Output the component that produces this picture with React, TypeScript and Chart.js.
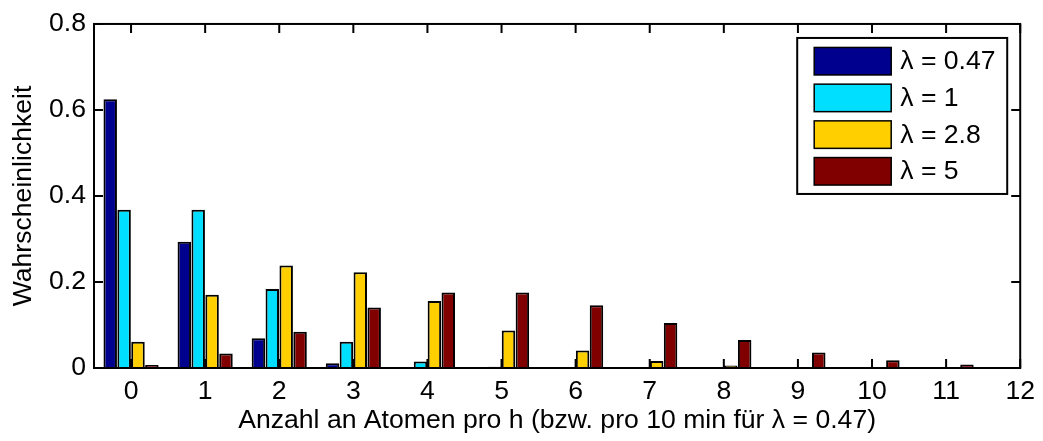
import React, { useEffect, useRef } from "react";
import { Chart, registerables } from "chart.js";

Chart.register(...registerables);

const categories = [0, 1, 2, 3, 4, 5, 6, 7, 8, 9, 10, 11, 12];
const lambda047 = [0.625, 0.2938, 0.069, 0.0108, 0.0013, 0.0001, 0, 0, 0, 0, 0, 0, 0];
const lambda1 = [0.3679, 0.3679, 0.1839, 0.0613, 0.0153, 0.0031, 0.0005, 0.0001, 0, 0, 0, 0, 0];
const lambda28 = [0.0608, 0.1703, 0.2384, 0.2225, 0.1557, 0.0872, 0.0407, 0.0163, 0.0057, 0.0018, 0.0005, 0.0001, 0];
const lambda5 = [0.0067, 0.0337, 0.0842, 0.1404, 0.1755, 0.1755, 0.1462, 0.1044, 0.0653, 0.0363, 0.0181, 0.0082, 0.0034];
const seriesLabels = ["λ = 0.47", "λ = 1", "λ = 2.8", "λ = 5"];
const seriesColors = ["#00008F", "#00DFFF", "#FFCF00", "#800000"];
const yTicks = [0, 0.2, 0.4, 0.6, 0.8];
const xTitle = "Anzahl an Atomen pro h (bzw. pro 10 min für λ = 0.47)";
const yTitle = "Wahrscheinlichkeit";

const FONT = "'Liberation Sans', Arial, Helvetica, sans-serif";
const FS = 26.6;

const boxPlugin = {
  id: "matlabBox",
  afterDatasetsDraw(chart: any) {
    const { ctx, chartArea: a, scales } = chart;
    const x = scales.x;
    const y = scales.y;
    const tl = 9;
    ctx.save();
    ctx.strokeStyle = "#000";
    ctx.lineWidth = 2;
    ctx.beginPath();
    categories.forEach((c) => {
      const px = x.getPixelForValue(c);
      ctx.moveTo(px, a.bottom);
      ctx.lineTo(px, a.bottom - tl);
      ctx.moveTo(px, a.top);
      ctx.lineTo(px, a.top + tl);
    });
    yTicks.forEach((t) => {
      const py = y.getPixelForValue(t);
      ctx.moveTo(a.left, py);
      ctx.lineTo(a.left + tl, py);
      ctx.moveTo(a.right, py);
      ctx.lineTo(a.right - tl, py);
    });
    ctx.stroke();
    ctx.strokeRect(a.left, a.top, a.right - a.left, a.bottom - a.top);

    // legend
    const bw = 210;
    const bh = 156;
    const bx = a.right - 13 - bw;
    const by = a.top + 14;
    ctx.fillStyle = "#fff";
    ctx.fillRect(bx, by, bw, bh);
    ctx.lineWidth = 2;
    ctx.strokeRect(bx, by, bw, bh);
    ctx.font = `${FS}px ${FONT}`;
    ctx.textBaseline = "middle";
    ctx.textAlign = "left";
    seriesLabels.forEach((lab, i) => {
      const ry = by + 9.5 + i * 36.7;
      ctx.fillStyle = seriesColors[i];
      ctx.fillRect(bx + 17, ry, 77, 27.5);
      ctx.lineWidth = 1.5;
      ctx.strokeStyle = "#000";
      ctx.strokeRect(bx + 17, ry, 77, 27.5);
      ctx.fillStyle = "#000";
      ctx.fillText(lab, bx + 103, ry + 14.5);
    });
    ctx.restore();
  },
};

export default function App() {
  const ref = useRef<HTMLCanvasElement>(null);
  useEffect(() => {
    if (!ref.current) return;
    const all = [lambda047, lambda1, lambda28, lambda5];
    const chart = new Chart(ref.current, {
      type: "bar",
      data: {
        datasets: all.map((vals, i) => ({
          label: seriesLabels[i],
          data: categories.map((c, j) => ({ x: c, y: vals[j] })),
          backgroundColor: seriesColors[i],
          borderColor: "#000",
          borderWidth: 2,
          categoryPercentage: 0.75,
          barPercentage: 0.97,
        })),
      },
      options: {
        animation: false,
        responsive: true,
        maintainAspectRatio: false,
        layout: { padding: { top: 15, right: 20, left: 0, bottom: 0 } },
        plugins: { legend: { display: false }, tooltip: { enabled: false } },
        scales: {
          x: {
            type: "linear",
            min: -0.5,
            max: 12,
            offset: false,
            grid: { display: false, drawTicks: false, offset: false },
            border: { display: false },
            afterBuildTicks: (s: any) => {
              s.ticks = categories.map((v) => ({ value: v }));
            },
            afterFit: (s: any) => {
              s.height = 73;
            },
            ticks: {
              padding: 8,
              color: "#000",
              font: { size: FS, family: FONT },
              maxRotation: 0,
              autoSkip: false,
              callback: (v: any) => String(v),
            },
            title: {
              display: true,
              text: xTitle,
              color: "#000",
              font: { size: FS, family: FONT },
              padding: { top: 0, bottom: 4 },
            },
          },
          y: {
            min: 0,
            max: 0.8,
            grid: { display: false, drawTicks: false },
            border: { display: false },
            afterBuildTicks: (s: any) => {
              s.ticks = yTicks.map((v) => ({ value: v }));
            },
            afterFit: (s: any) => {
              s.width = 94;
            },
            ticks: {
              padding: 8,
              color: "#000",
              font: { size: FS, family: FONT },
              callback: (v: any) => String(Number(Number(v).toFixed(1))),
            },
            title: {
              display: true,
              text: yTitle,
              color: "#000",
              font: { size: FS, family: FONT },
              padding: { top: 8, bottom: 0 },
            },
          },
        },
      },
      plugins: [boxPlugin],
    });
    return () => chart.destroy();
  }, []);
  return (
    <div style={{ position: "fixed", left: 0, top: 0, width: 1043, height: 441, background: "#fff" }}>
      <canvas ref={ref} />
    </div>
  );
}
